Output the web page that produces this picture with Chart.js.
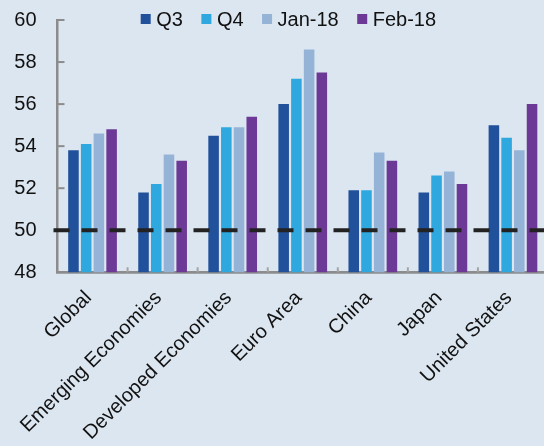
<!DOCTYPE html>
<html>
<head>
<meta charset="utf-8">
<script src="https://cdn.jsdelivr.net/npm/chart.js@4/dist/chart.umd.min.js"></script>
<style>
    html, body {
        margin: 0;
        padding: 0;
        overflow: hidden;
        background: #dce6f0;
    }
    #wrap {
        position: relative;
        width: 548px;
        height: 446px;
    }
</style>
</head>
<body>
<div id="wrap"><canvas id="pmi"></canvas></div>
<script>
const categories = ["Global", "Emerging Economies", "Developed Economies", "Euro Area", "China", "Japan", "United States"];
const seriesNames = ["Q3", "Q4", "Jan-18", "Feb-18"];
const q3 = [53.8, 51.8, 54.5, 56.0, 51.9, 51.8, 55.0];
const q4 = [54.1, 52.2, 54.9, 57.2, 51.9, 52.6, 54.4];
const jan18 = [54.6, 53.6, 54.9, 58.6, 53.7, 52.8, 53.8];
const feb18 = [54.8, 53.3, 55.4, 57.5, 53.3, 52.2, 56.0];
const yTicks = [48, 50, 52, 54, 56, 58, 60];
const threshold = 50;

const colors = ["#21519b", "#2ea8df", "#95b3d7", "#6c3a96"];
const FONT = "Arial, 'Liberation Sans', sans-serif";

// axis frame, inward tick marks and the dashed 50 line
const axisMarks = {
    id: "axisMarks",
    afterDatasetsDraw(chart) {
        const { ctx, chartArea, scales } = chart;
        const x = scales.x;
        const y = scales.y;
        ctx.save();

        ctx.strokeStyle = "#8c8c8c";
        ctx.lineWidth = 2;
        yTicks.slice(1).forEach((v) => {
            const py = y.getPixelForValue(v);
            ctx.beginPath();
            ctx.moveTo(chartArea.left, py);
            ctx.lineTo(chartArea.left + 7, py);
            ctx.stroke();
        });

        ctx.strokeStyle = "#a3a3a3";
        for (let i = 1; i < categories.length; i++) {
            const px = (x.getPixelForValue(i - 1) + x.getPixelForValue(i)) / 2;
            ctx.beginPath();
            ctx.moveTo(px, chartArea.bottom);
            ctx.lineTo(px, chartArea.bottom - 5);
            ctx.stroke();
        }

        const py = y.getPixelForValue(threshold);
        ctx.strokeStyle = "#222222";
        ctx.lineWidth = 4;
        ctx.setLineDash([16, 12]);
        ctx.beginPath();
        ctx.moveTo(chartArea.left - 4, py);
        ctx.lineTo(chart.width, py);
        ctx.stroke();
        ctx.restore();
    },
};

// small square legend along the top
const topLegend = {
    id: "topLegend",
    afterDraw(chart) {
        const { ctx } = chart;
        ctx.save();
        ctx.font = "20px " + FONT;
        ctx.textBaseline = "middle";
        let lx = 140.7;
        const cy = 19;
        chart.data.datasets.forEach((ds) => {
            ctx.fillStyle = ds.backgroundColor;
            ctx.fillRect(lx, cy - 5, 10, 10);
            ctx.fillStyle = "#111111";
            ctx.fillText(ds.label, lx + 15.5, cy + 1);
            lx += 15.5 + ctx.measureText(ds.label).width + 18.5;
        });
        ctx.restore();
    },
};

const allSeries = [q3, q4, jan18, feb18];

new Chart(document.getElementById("pmi"), {
    type: "bar",
    data: {
        labels: categories,
        datasets: allSeries.map((values, i) => ({
            label: seriesNames[i],
            data: values,
            backgroundColor: colors[i],
            borderWidth: 0,
            categoryPercentage: 0.726,
            barPercentage: 0.83,
        })),
    },
    options: {
        responsive: true,
        maintainAspectRatio: false,
        animation: false,
        layout: {
            padding: { top: 20, left: 0, right: 0, bottom: 0 },
        },
        scales: {
            x: {
                grid: { display: false },
                border: { color: "#8c8c8c", width: 2.7 },
                ticks: {
                    font: { size: 20, family: FONT },
                    color: "#111111",
                    minRotation: 45,
                    maxRotation: 45,
                    autoSkip: false,
                    padding: 6,
                    labelOffset: -4,
                },
                afterFit(scale) {
                    scale.height = 173.7;
                },
            },
            y: {
                min: 48,
                max: 60,
                grid: { display: false },
                border: { color: "#8c8c8c", width: 2.5 },
                afterBuildTicks(scale) {
                    scale.ticks = yTicks.map((v) => ({ value: v }));
                },
                ticks: {
                    font: { size: 20, family: FONT },
                    color: "#111111",
                    padding: 13,
                },
                afterFit(scale) {
                    scale.width = 57.5;
                    scale.paddingTop = 0;
                    scale.paddingBottom = 0;
                },
            },
        },
        plugins: {
            legend: { display: false },
            tooltip: { enabled: false },
        },
    },
    plugins: [axisMarks, topLegend],
});
</script>
</body>
</html>
